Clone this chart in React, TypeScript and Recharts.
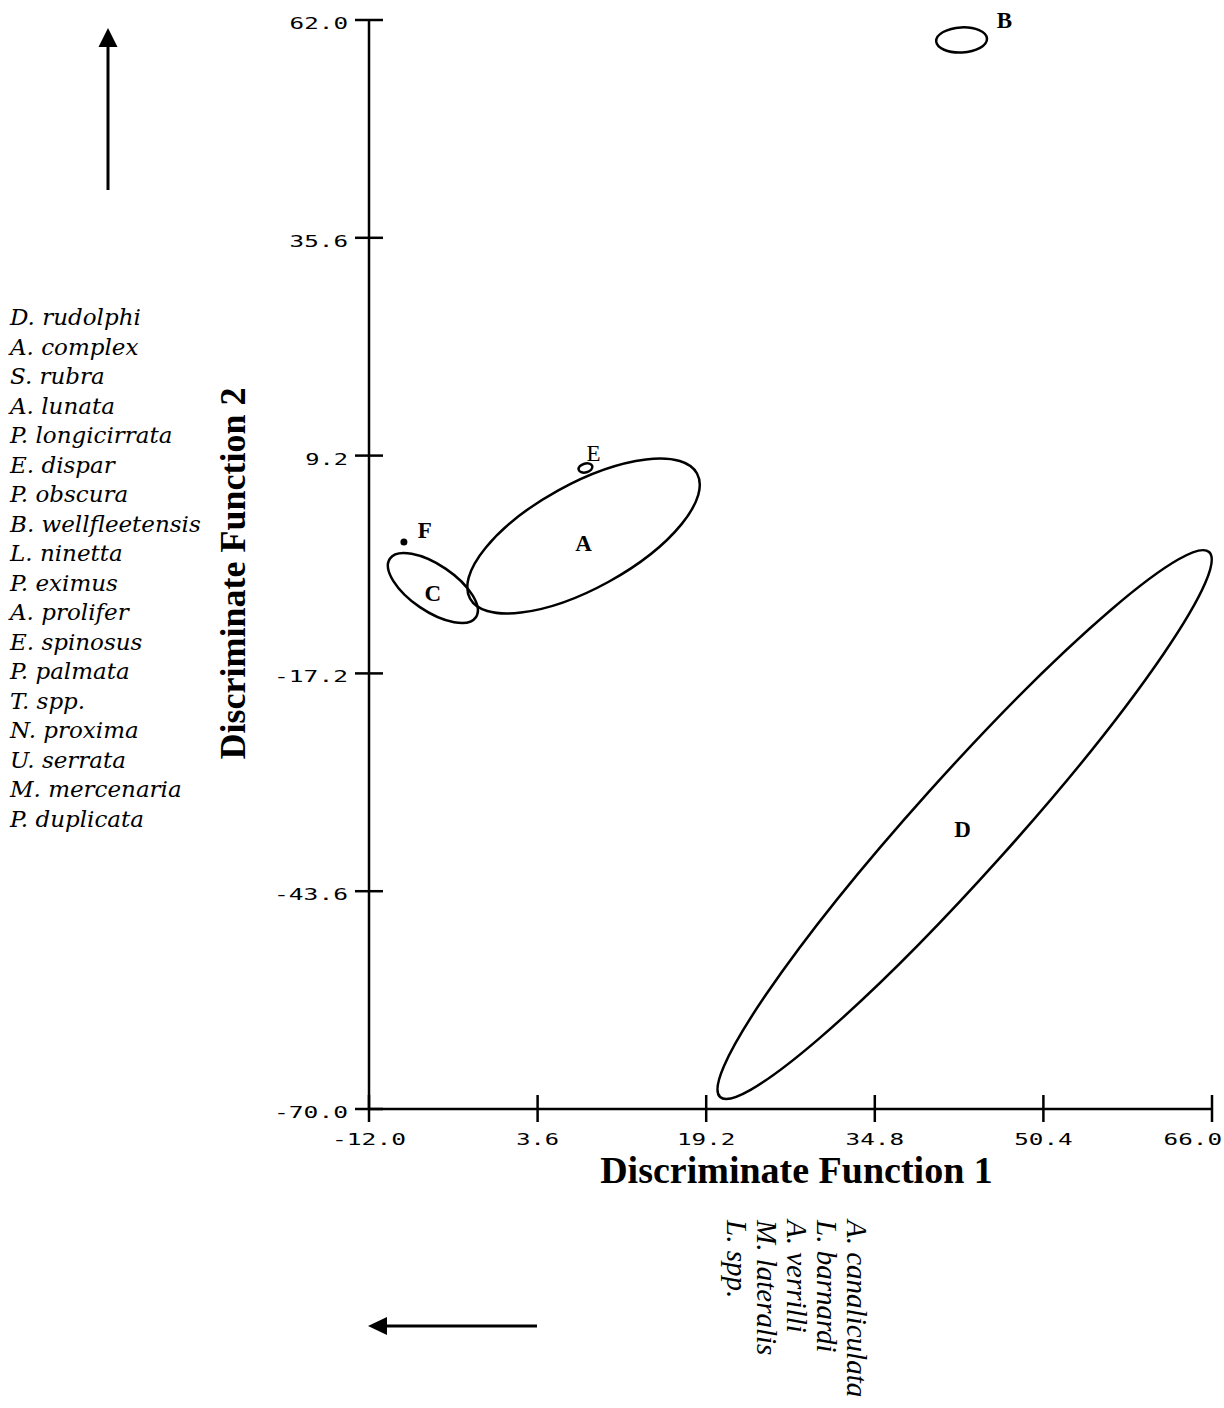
import React from 'react';
import { ScatterChart, Scatter, XAxis, YAxis } from 'recharts';

// group ellipses: centre and the two semi-axis vectors, all in data units
const GROUPS = ['A', 'B', 'C', 'D', 'E'];
const CENTER_X = [7.85, 42.83, -6.09, 43.11, 8.03];
const CENTER_Y = [-0.55, 59.58, -6.85, -35.52, 7.7];
const MAJOR_DX = [10.5, 2.35, 3.98, 22.62, 0.63];
const MAJOR_DY = [7.58, 0.16, -3.55, 33.03, 0.22];
const MINOR_DX = [2.32, 0.06, -1.2, 3.33, 0.11];
const MINOR_DY = [-5.55, -1.52, -2.32, -3.94, -0.52];

// single observation F
const POINT_X = [-8.77];
const POINT_Y = [-1.27];

// letters placed beside each group
const LABEL_TEXT = ['A', 'B', 'C', 'D', 'E', 'F'];
const LABEL_X = [7.85, 46.8, -6.09, 42.92, 8.77, -6.83];
const LABEL_Y = [-1.39, 61.94, -7.45, -36.06, 9.52, 0.18];

const X_TICKS = [-12, 3.6, 19.2, 34.8, 50.4, 66];
const Y_TICKS = [-70, -43.6, -17.2, 9.2, 35.6, 62];

const LEFT_SPECIES = [
  'D. rudolphi', 'A. complex', 'S. rubra', 'A. lunata', 'P. longicirrata',
  'E. dispar', 'P. obscura', 'B. wellfleetensis', 'L. ninetta', 'P. eximus',
  'A. prolifer', 'E. spinosus', 'P. palmata', 'T. spp.', 'N. proxima',
  'U. serrata', 'M. mercenaria', 'P. duplicata',
];
const BOTTOM_SPECIES = ['A. canaliculata', 'L. barnardi', 'A. verrilli', 'M. lateralis', 'L. spp.'];

const W = 1224;
const H = 1408;
const Y_AXIS_W = 369;
const X_AXIS_H = 299;
const MARGIN = { top: 20, right: 12, bottom: 0, left: 0 };
const PLOT_W = W - Y_AXIS_W - MARGIN.right;
const PLOT_H = H - X_AXIS_H - MARGIN.top;
const X_DOMAIN: [number, number] = [-12, 66];
const Y_DOMAIN: [number, number] = [-70, 62];
const KX = PLOT_W / (X_DOMAIN[1] - X_DOMAIN[0]);
const KY = PLOT_H / (Y_DOMAIN[1] - Y_DOMAIN[0]);

const TICK_FONT = '"DejaVu Sans Mono", monospace';
const SERIF = '"Liberation Serif", "Times New Roman", serif';
const CHAR_W = 15.6;

const ellipseData = GROUPS.map((g, i) => ({
  name: g,
  x: CENTER_X[i],
  y: CENTER_Y[i],
  ux: MAJOR_DX[i],
  uy: MAJOR_DY[i],
  vx: MINOR_DX[i],
  vy: MINOR_DY[i],
}));
const pointData = POINT_X.map((x, i) => ({ x, y: POINT_Y[i] }));
const labelData = LABEL_TEXT.map((t, i) => ({ text: t, x: LABEL_X[i], y: LABEL_Y[i] }));

const EllipseShape = (props: any) => {
  const { cx, cy, payload } = props;
  const ux = payload.ux * KX;
  const uy = -payload.uy * KY;
  const vx = payload.vx * KX;
  const vy = -payload.vy * KY;
  const rx = Math.hypot(ux, uy);
  const ry = Math.hypot(vx, vy);
  const ang = (Math.atan2(uy, ux) * 180) / Math.PI;
  return (
    <ellipse
      cx={cx}
      cy={cy}
      rx={rx}
      ry={ry}
      transform={`rotate(${ang} ${cx} ${cy})`}
      fill="none"
      stroke="#000"
      strokeWidth={2.5}
    />
  );
};

const DotShape = (props: any) => <circle cx={props.cx} cy={props.cy} r={3.5} fill="#000" />;

const LetterShape = (props: any) => {
  const { cx, cy, payload } = props;
  return (
    <text
      x={cx}
      y={cy + 8}
      textAnchor="middle"
      fontFamily={SERIF}
      fontWeight={payload.text === 'E' ? 400 : 700}
      fontSize={23}
      fill="#000"
    >
      {payload.text}
    </text>
  );
};

const tickText = (v: number) => Number(v).toFixed(1);

const XTick = (props: any) => {
  const { x, y, payload } = props;
  const s = tickText(payload.value);
  const len = s.length * CHAR_W - 4;
  // the last label is pulled back inside the page, as in the original
  const overflow = x + len / 2 > W - 2;
  return (
    <g>
      <line x1={x} x2={x} y1={y - 14} y2={y + 13} stroke="#000" strokeWidth={2.5} />
      <text
        x={overflow ? W - 2 : x}
        y={y + 36}
        textAnchor={overflow ? 'end' : 'middle'}
        fontFamily={TICK_FONT}
        fontSize={16}
        textLength={len}
        lengthAdjust="spacingAndGlyphs"
        fill="#000"
      >
        {s}
      </text>
    </g>
  );
};

const YTick = (props: any) => {
  const { x, y, payload } = props;
  const s = tickText(payload.value);
  return (
    <g>
      <line x1={x - 14} x2={x + 14} y1={y} y2={y} stroke="#000" strokeWidth={2.5} />
      <text
        x={x - 21}
        y={y + 9}
        textAnchor="end"
        fontFamily={TICK_FONT}
        fontSize={16}
        textLength={s.length * CHAR_W - 4}
        lengthAdjust="spacingAndGlyphs"
        fill="#000"
      >
        {s}
      </text>
    </g>
  );
};

export default function App() {
  return (
    <div style={{ position: 'absolute', left: 0, top: 0, width: W, height: H, background: '#fff' }}>
      <ScatterChart width={W} height={H} margin={MARGIN}>
        <XAxis
          type="number"
          dataKey="x"
          domain={X_DOMAIN}
          ticks={X_TICKS}
          height={X_AXIS_H}
          axisLine={{ stroke: '#000', strokeWidth: 2.5 }}
          tickLine={false}
          tickSize={0}
          tickMargin={0}
          tick={<XTick />}
          interval={0}
          label={{
            value: 'Discriminate Function 1',
            position: 'insideTop',
            offset: 47,
            dx: 6,
            fill: '#000',
            fontSize: 38,
            fontWeight: 700,
            fontFamily: SERIF,
          }}
        />
        <YAxis
          type="number"
          dataKey="y"
          domain={Y_DOMAIN}
          ticks={Y_TICKS}
          width={Y_AXIS_W}
          axisLine={{ stroke: '#000', strokeWidth: 2.5 }}
          tickLine={false}
          tickSize={0}
          tickMargin={0}
          tick={<YTick />}
          interval={0}
          label={{
            value: 'Discriminate Function 2',
            angle: -90,
            position: 'insideLeft',
            offset: 232,
            dy: 9,
            fill: '#000',
            fontSize: 36,
            fontWeight: 700,
            fontFamily: SERIF,
            style: { textAnchor: 'middle' },
          }}
        />
        <Scatter data={ellipseData} shape={EllipseShape} isAnimationActive={false} />
        <Scatter data={pointData} shape={DotShape} isAnimationActive={false} />
        <Scatter data={labelData} shape={LetterShape} isAnimationActive={false} />
      </ScatterChart>

      <svg
        width={W}
        height={H}
        style={{ position: 'absolute', left: 0, top: 0, pointerEvents: 'none' }}
      >
        {/* direction arrows */}
        <line x1={108} y1={190} x2={108} y2={42} stroke="#000" strokeWidth={3} />
        <polygon points="108,28 98.5,47 117.5,47" fill="#000" />
        <line x1={537} y1={1326} x2={384} y2={1326} stroke="#000" strokeWidth={3} />
        <polygon points="368,1326 387,1317 387,1335" fill="#000" />

        {LEFT_SPECIES.map((s, i) => (
          <text
            key={s}
            x={10}
            y={325 + i * 29.5}
            fontFamily={'"DejaVu Serif", serif'}
            fontStyle="italic"
            fontSize={23}
            fill="#000"
          >
            {s}
          </text>
        ))}

        {BOTTOM_SPECIES.map((s, i) => (
          <text
            key={s}
            transform={`translate(${847 - i * 30} 1220) rotate(90)`}
            fontFamily={SERIF}
            fontStyle="italic"
            fontSize={29}
            fill="#000"
          >
            {s}
          </text>
        ))}
      </svg>
    </div>
  );
}
